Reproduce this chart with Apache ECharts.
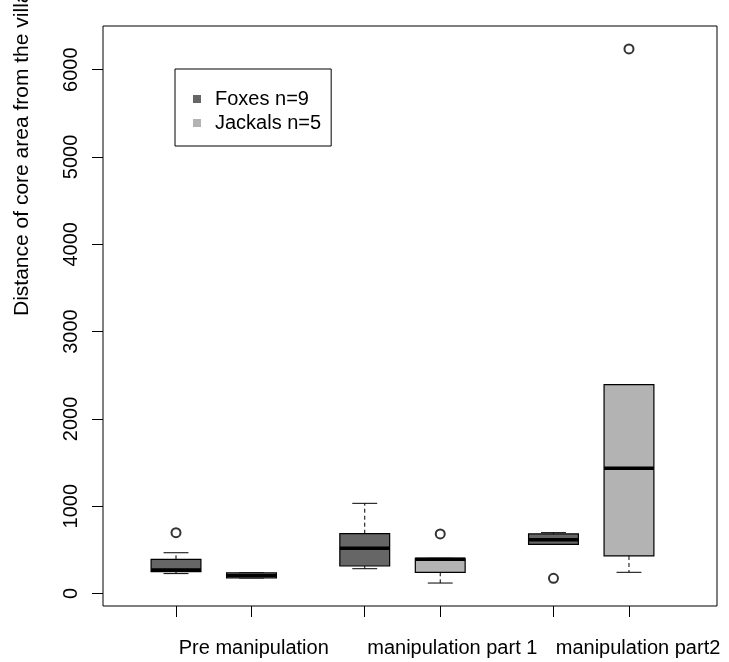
<!DOCTYPE html>
<html><head><meta charset="utf-8">
<script src="https://cdn.jsdelivr.net/npm/echarts@6/dist/echarts.min.js"></script>
<style>html,body{margin:0;padding:0;background:#fff}#c{width:729px;height:662px}</style>
</head><body><div id="c"></div>
<script>
const groups = ['Pre manipulation', 'manipulation part 1', 'manipulation part2'];
const seriesNames = ['Foxes n=9', 'Jackals n=5'];
const yTitle = 'Distance of core area from the village';
// box statistics per group: [lower whisker, q1, median, q3, upper whisker]
const foxStats = [[228, 250, 268, 392, 467], [284, 315, 518, 685, 1033], [563, 563, 616, 682, 697]];
const jackalStats = [[178, 178, 208, 238, 238], [120, 243, 392, 403, 403], [243, 430, 1434, 2392, 2392]];
const foxOutliers = [[697], [], [174]];
const jackalOutliers = [[], [682], [6237]];
const yTicks = [0, 1000, 2000, 3000, 4000, 5000, 6000];

const FONT = "'Liberation Sans', Arial, Helvetica, sans-serif";
const colors = ['#666666', '#b3b3b3'];
// layout: box slot positions on x axis
const boxPos = (g, s) => 1 + 2.5 * g + s;
const tickPos = [];
groups.forEach((_, g) => { tickPos.push(boxPos(g, 0), boxPos(g, 1)); });
const labelAt = [2.03, 4.66, 7.12];

function boxData(stats, s) {
  return stats.map((st, g) => [boxPos(g, s)].concat(st));
}
function outlierData(outs, s) {
  const r = [];
  outs.forEach((arr, g) => arr.forEach(v => r.push([boxPos(g, s), v])));
  return r;
}

function renderBox(params, api) {
  const x = api.value(0), lo = api.value(1), q1 = api.value(2), med = api.value(3), q3 = api.value(4), hi = api.value(5);
  const color = api.visual('color');
  const half = 0.33, cap = 0.165;
  const p = (xx, yy) => api.coord([xx, yy]);
  const line = (a, b, style) => ({ type: 'line', shape: { x1: a[0], y1: a[1], x2: b[0], y2: b[1] }, style: style });
  const solid = { stroke: '#000', lineWidth: 1 };
  const dashed = { stroke: '#000', lineWidth: 1, lineDash: [4, 3] };
  const tl = p(x - half, q3), br = p(x + half, q1);
  return {
    type: 'group', children: [
      line(p(x, q3), p(x, hi), dashed),
      line(p(x, q1), p(x, lo), dashed),
      line(p(x - cap, hi), p(x + cap, hi), solid),
      line(p(x - cap, lo), p(x + cap, lo), solid),
      { type: 'rect', shape: { x: tl[0], y: tl[1], width: br[0] - tl[0], height: br[1] - tl[1] }, style: { fill: color, stroke: '#000', lineWidth: 1.2 } },
      line(p(x - half, med), p(x + half, med), { stroke: '#000', lineWidth: 3.5 })
    ]
  };
}

const chart = echarts.init(document.getElementById('c'), null, { renderer: 'canvas' });
chart.setOption({
  animation: false,
  backgroundColor: '#fff',
  grid: { left: 103, right: 12, top: 26, bottom: 56, show: true, borderColor: '#000', borderWidth: 1, backgroundColor: 'transparent' },
  legend: {
    data: seriesNames, orient: 'vertical', left: 175, top: 69, padding: [20, 10, 13, 18], itemGap: 4,
    itemWidth: 8, itemHeight: 8, icon: 'rect', borderColor: '#000', borderWidth: 1, borderRadius: 0, selectedMode: false,
    textStyle: { fontSize: 20, fontFamily: FONT, color: '#000', padding: [0, 0, 0, 9], lineHeight: 20 }
  },
  xAxis: {
    type: 'value', min: 0.033, max: 8.166,
    axisLine: { show: false, onZero: false },
    splitLine: { show: false },
    axisTick: { show: true, customValues: tickPos, length: 11, lineStyle: { color: '#000', width: 1 } },
    axisLabel: {
      customValues: labelAt, margin: 32, fontSize: 20, fontFamily: FONT, color: '#000',
      formatter: v => { const i = labelAt.findIndex(a => Math.abs(a - v) < 1e-6); return i >= 0 ? groups[i] : ''; }
    }
  },
  yAxis: {
    type: 'value', min: -143, max: 6500,
    axisLine: { show: false, onZero: false },
    splitLine: { show: false },
    axisTick: { show: true, customValues: yTicks, length: 11, lineStyle: { color: '#000', width: 1 } },
    axisLabel: { customValues: yTicks, rotate: 90, margin: 22, fontSize: 20, fontFamily: FONT, color: '#000', formatter: v => String(v) }
  },
  graphic: [{
    type: 'text', x: 22, y: 316, rotation: Math.PI / 2,
    style: { text: yTitle, font: '21px ' + FONT, fill: '#000', textAlign: 'left', textVerticalAlign: 'middle' }
  }],
  series: [
    { name: seriesNames[0], type: 'custom', renderItem: renderBox, itemStyle: { color: colors[0] }, encode: { x: 0, y: [1, 2, 3, 4, 5] }, data: boxData(foxStats, 0), z: 2 },
    { name: seriesNames[1], type: 'custom', renderItem: renderBox, itemStyle: { color: colors[1] }, encode: { x: 0, y: [1, 2, 3, 4, 5] }, data: boxData(jackalStats, 1), z: 2 },
    { name: 'fox outliers', type: 'scatter', symbol: 'emptyCircle', symbolSize: 9, itemStyle: { color: '#000', borderColor: '#000', borderWidth: 0.9 }, data: outlierData(foxOutliers, 0), z: 3 },
    { name: 'jackal outliers', type: 'scatter', symbol: 'emptyCircle', symbolSize: 9, itemStyle: { color: '#000', borderColor: '#000', borderWidth: 0.9 }, data: outlierData(jackalOutliers, 1), z: 3 }
  ]
});
</script></body></html>
